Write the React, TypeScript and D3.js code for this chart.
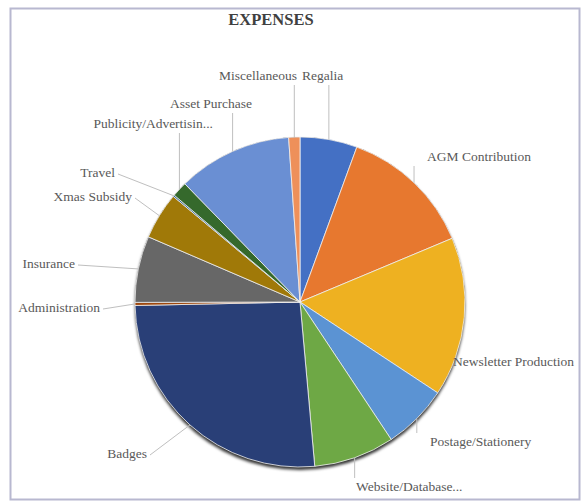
import React from "react";
import * as d3 from "d3";

const categories = [
  "Regalia",
  "AGM Contribution",
  "Newsletter Production",
  "Postage/Stationery",
  "Website/Database...",
  "Badges",
  "Administration",
  "Insurance",
  "Xmas Subsidy",
  "Travel",
  "Publicity/Advertisin...",
  "Asset Purchase",
  "Miscellaneous",
];
const values = [5.6, 13.1, 15.6, 6.4, 7.9, 26.1, 0.3, 6.5, 4.6, 0.15, 1.5, 11.2, 1.1];
const colors = [
  "#4470c4", "#e7782f", "#eeb121", "#5b93d3", "#6ea845", "#293f77", "#9e480e",
  "#676767", "#a07908", "#255e91", "#35692c", "#6a8fd3", "#ee905a",
];
const title = "EXPENSES";

// label layout: [x, baseline y, anchor, leader mode]
const labelLayout: [number, number, string, string][] = [
  [302, 80, "start", "v"],
  [427, 161, "start", "v"],
  [453, 366, "start", "none"],
  [430, 446, "start", "v"],
  [356, 491, "start", "v"],
  [147, 458, "end", "d"],
  [100, 312, "end", "d"],
  [75, 268, "end", "d"],
  [132, 201, "end", "d"],
  [115, 177, "end", "d"],
  [213, 128, "end", "v"],
  [252, 108, "end", "v"],
  [297, 80, "end", "v"],
];

export default function App() {
  const W = 582, H = 504;
  const cx = 300, cy = 302, r = 165;
  const pie = d3.pie<number>().sort(null).value((d) => d);
  const arcs = pie(values);
  const arc = d3.arc<d3.PieArcDatum<number>>().innerRadius(0).outerRadius(r);
  const font = "'Liberation Serif', 'Times New Roman', serif";

  return (
    <svg width={W} height={H} style={{ position: "absolute", left: 0, top: 0 }}>
      <defs>
        <filter id="sh" x="-10%" y="-10%" width="120%" height="125%">
          <feDropShadow dx="0" dy="3" stdDeviation="1.6" floodColor="#000" floodOpacity="0.8" />
        </filter>
      </defs>
      <rect x={0} y={0} width={W} height={H} fill="#fff" />
      <rect x={10.5} y={8.5} width={569} height={491} fill="#fff" stroke="#b8b8d0" strokeWidth={2} />
      <text x={271} y={25} textAnchor="middle" fontFamily={font} fontWeight="bold" fontSize={16.5} fill="#404040">
        {title}
      </text>
      <g transform={`translate(${cx},${cy})`}>
        <circle r={r} fill="#222" filter="url(#sh)" />
        {arcs.map((a, i) => (
          <path key={i} d={arc(a) || ""} fill={colors[i]} stroke="#f2f2f2" strokeOpacity={0.8} strokeWidth={1} />
        ))}
      </g>
      {arcs.map((a, i) => {
        const mid = (a.startAngle + a.endAngle) / 2;
        const ex = cx + r * Math.sin(mid);
        const ey = cy - r * Math.cos(mid);
        const [lx, ly, anchor, mode] = labelLayout[i];
        let line = null;
        if (mode === "v") {
          const y1 = ly < ey ? ly + 5 : ly - 13;
          line = <line x1={ex} y1={y1} x2={ex} y2={ey} stroke="#bfbfbf" strokeWidth={1} />;
        } else if (mode === "d") {
          const x1 = anchor === "end" ? lx + 3 : lx - 3;
          line = <line x1={x1} y1={ly - 3} x2={ex} y2={ey} stroke="#bfbfbf" strokeWidth={1} />;
        }
        return (
          <g key={i}>
            {line}
            <text x={lx} y={ly} textAnchor={anchor} fontFamily={font} fontSize={13.5} fill="#595959">
              {categories[i]}
            </text>
          </g>
        );
      })}
    </svg>
  );
}
